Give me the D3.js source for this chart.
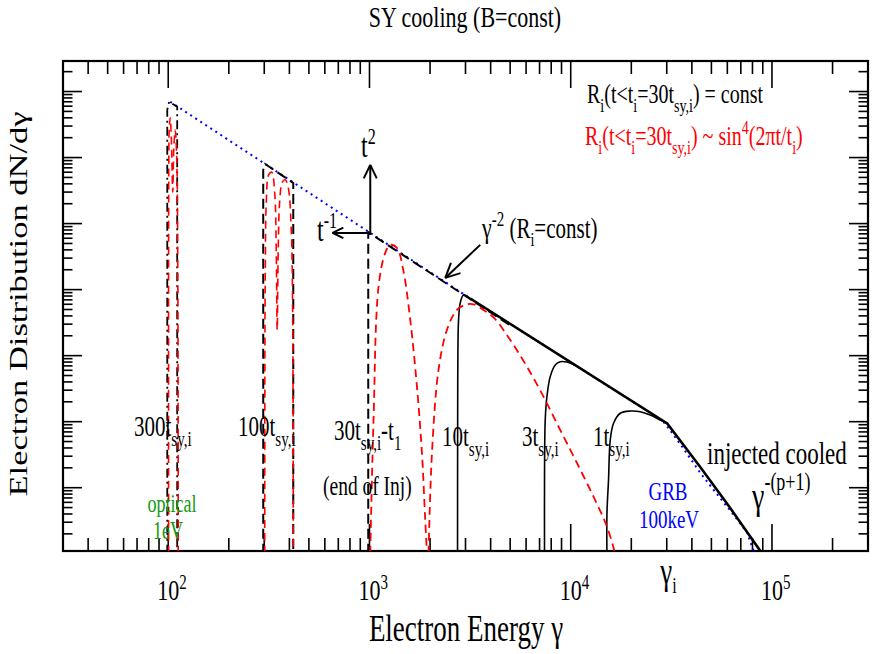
<!DOCTYPE html>
<html lang="en">
<head>
<meta charset="UTF-8">
<title>SY cooling (B=const)</title>
<script src="https://d3js.org/d3.v7.min.js"></script>
<style>
  body { margin: 0; background: #fff; }
  svg text { white-space: pre; }
</style>
</head>
<body>
<svg width="872" height="654"></svg>
<script>
    // axis ticks
    const xTickValues = [1e2, 1e3, 1e4, 1e5];
    const xTickExponents = ["2", "3", "4", "5"];
    const gammaI = 3.016e4;

    // curves, [gamma, dN/dgamma]
    const injectionAsymptote = [[102.3, 7.0e6], [1009, 7.23e4], [3167, 7340], [2.483e4, 136], [2.90e4, 98], [3.1e4, 76],
        [3.635e4, 39], [4.40e4, 16.8], [5.327e4, 8.0], [6.442e4, 3.9], [7.508e4, 2.1], [8.2e4, 1.0]];
    const cooledMain = [[3167, 7340], [3.016e4, 93.9], [4.40e4, 20.6], [6.202e4, 4.92], [8.95e4, 1.0]];
    const rise10 = [[2739, 1], [2741, 30], [2745, 400], [2752, 1369], [2771, 3475], [2825, 6288], [2934, 8313], [3167, 7340]];
    const rise3 = [[7409, 1], [7409, 13], [7469, 106], [7615, 239], [7909, 481], [8375, 723], [8868, 811], [9574, 800], [1.06e4, 705]];
    const rise1 = [[1.5134e4, 1], [1.5134e4, 4], [1.541e4, 13.1], [1.5715e4, 52.8], [1.6324e4, 94.6], [1.762e4, 134],
        [1.976e4, 145], [2.214e4, 141.7], [2.483e4, 126.3], [2.785e4, 106.1], [3.016e4, 93.9]];
    const t300Black = [[98.9, 1], [98.9, 5.3e6], [101.1, 7.0e6], [110.8, 5.86e6], [110.8, 1]];
    const t300Red = [[100.4, 1], [100.6, 6e5], [101.1, 2.6e6], [102.3, 4.0e6], [103.5, 2.2e6], [105.3, 3e5],
        [106.5, 1.3e6], [108.3, 2.6e6], [110.2, 1.0e6], [111.5, 3e4], [112.1, 1]];
    const t100Black = [[296.5, 1], [296.5, 6.5e5], [303, 8.0e5], [418.1, 4.12e5], [418.1, 1]];
    const t100Red = [[301.6, 1], [302.5, 3e3], [304, 3e4], [306.9, 2.0e5], [315.8, 5.5e5], [326.8, 6.0e5], [338.2, 2.9e5],
        [344, 4.0e4], [348, 2.45e3], [352, 4e4], [358.1, 2.2e5], [368.5, 4.2e5], [381.4, 4.6e5], [394.8, 3.5e5],
        [408.6, 8e4], [415.7, 3e3], [418.1, 1]];
    const t30Black = [[986, 1], [986, 7.4e4], [5000, 2884]];
    const t30RedA = [[1008.6, 1], [1047.4, 106], [1109.3, 1.11e4], [1197.6, 3.6e4], [1268.2, 4.76e4], [1369, 4.28e4],
        [1471.5, 1.99e4], [1594.3, 3475], [1721.3, 339], [1822.5, 33.6], [1892.6, 3.24], [1930, 1]];
    const t30RedB = [[1965, 1], [2044, 33.6], [2203, 607], [2426, 2451], [2720, 4925], [3050, 6000], [3289, 6000],
        [3687, 4900], [4134, 3800], [5005, 1729], [6059, 681], [7324, 239], [8868, 74.8], [1.0735e4, 23.7],
        [1.2982e4, 7.31], [1.5134e4, 2.57], [1.6642e4, 1]];

    // arrows: t^2 / t^-1 origin and the gamma^-2 pointer
    const arrowOrigin = [1009, 7.23e4];
    const arrowUpEnd = [1009, 7.75e5];
    const arrowLeftEnd = [655, 7.23e4];
    const slopeArrow = [[3550, 4.76e4], [2379, 1.504e4]];

    const margin = { left: 63, right: 868, top: 61, bottom: 551 };
    const S = 1.38; // text in the original is stretched vertically
    const FONT = "'Liberation Serif', 'Times New Roman', Times, 'DejaVu Serif', serif";

    const svg = d3.select("svg");

    const x = d3.scaleLog().domain([30, 3e5]).range([margin.left, margin.right]);
    const y = d3.scaleLog().domain([1.1, 2.9e7]).range([margin.bottom, margin.top]);

    svg.append("defs").append("clipPath").attr("id", "plot")
        .append("rect")
        .attr("x", margin.left).attr("y", margin.top)
        .attr("width", margin.right - margin.left)
        .attr("height", margin.bottom - margin.top);

    function richText(px, py, parts, opt) {
        const t = svg.append("text")
            .attr("transform", `translate(${px},${py}) scale(1,${S})` + (opt.rotate ? " rotate(-90)" : ""))
            .attr("text-anchor", opt.anchor || "start")
            .attr("fill", opt.color || "#000")
            .attr("font-family", FONT)
            .style("font-family", FONT)
            .style("font-size", opt.size + "px");
        let cur = 0;
        parts.forEach(p => {
            const shift = (p.dy || 0) / S;
            t.append("tspan")
                .attr("dy", (shift - cur).toFixed(2))
                .style("font-size", (p.s || opt.size) + "px")
                .text(p.t);
            cur = shift;
        });
        return t;
    }

    function drawAxes() {
        const minorX = [];
        for (let k = 1; k <= 5; k++) {
            for (let m = 2; m <= 9; m++) {
                const v = m * Math.pow(10, k);
                if (v > 30 && v < 3e5) minorX.push(v);
            }
        }
        const minorY = [];
        for (let k = 0; k <= 7; k++) {
            for (let m = 2; m <= 9; m++) {
                const v = m * Math.pow(10, k);
                if (v > 1.1 && v < 2.9e7) minorY.push(v);
            }
        }
        const majorY = d3.range(1, 8).map(k => Math.pow(10, k));

        const g = svg.append("g").attr("stroke", "#000");
        const xTicks = minorX.map(v => ({ v, len: 13 })).concat(xTickValues.map(v => ({ v, len: 27 })));
        xTicks.forEach(d => {
            g.append("line").attr("x1", x(d.v)).attr("x2", x(d.v))
                .attr("y1", margin.bottom).attr("y2", margin.bottom - d.len).attr("stroke-width", 1.6);
            g.append("line").attr("x1", x(d.v)).attr("x2", x(d.v))
                .attr("y1", margin.top).attr("y2", margin.top + d.len).attr("stroke-width", 1.6);
        });
        const yTicks = minorY.map(v => ({ v, len: 9.5 })).concat(majorY.map(v => ({ v, len: 19 })));
        yTicks.forEach(d => {
            g.append("line").attr("y1", y(d.v)).attr("y2", y(d.v))
                .attr("x1", margin.left).attr("x2", margin.left + d.len).attr("stroke-width", 1.6);
            g.append("line").attr("y1", y(d.v)).attr("y2", y(d.v))
                .attr("x1", margin.right).attr("x2", margin.right - d.len).attr("stroke-width", 1.6);
        });

        svg.append("rect")
            .attr("x", margin.left).attr("y", margin.top)
            .attr("width", margin.right - margin.left)
            .attr("height", margin.bottom - margin.top)
            .attr("fill", "none").attr("stroke", "#000").attr("stroke-width", 2.2);

        xTickValues.forEach((v, i) => {
            richText(x(v) - 11, 600, [{ t: "10" }, { t: xTickExponents[i], s: 15, dy: -11 }], { size: 22 });
        });
        richText(x(gammaI) - 7, 584, [{ t: "γ" }, { t: "i", s: 16, dy: 9 }], { size: 27 });

        richText(466, 641, [{ t: "Electron Energy γ" }], { size: 27, anchor: "middle" });
        richText(27, 304, [{ t: "Electron Distribution dN/dγ" }], { size: 25, anchor: "middle", rotate: true });
        richText(465, 27, [{ t: "SY cooling (B=const)" }], { size: 22, anchor: "middle" });
    }

    function drawCurve(data, color, width, dash, curve) {
        const line = d3.line()
            .x(d => x(d[0]))
            .y(d => y(d[1]))
            .curve(curve || d3.curveLinear);
        svg.append("path")
            .datum(data)
            .attr("clip-path", "url(#plot)")
            .attr("fill", "none")
            .attr("stroke", color)
            .attr("stroke-width", width)
            .attr("stroke-dasharray", dash)
            .attr("d", line);
    }

    function drawCurves() {
        const smooth = d3.curveCatmullRom.alpha(0.5);
        drawCurve(injectionAsymptote, "#0000ff", 2, "2,4");
        drawCurve(t300Black, "#000", 1.8, "9,4,2,4");
        drawCurve(t100Black, "#000", 2, "10,5");
        drawCurve(t30Black, "#000", 2, "10,5");
        drawCurve(cooledMain, "#000", 2.6, null);
        drawCurve(rise10, "#000", 1.6, null, smooth);
        drawCurve(rise3, "#000", 1.6, null, smooth);
        drawCurve(rise1, "#000", 1.6, null, smooth);
        drawCurve(t300Red, "#ff0000", 1.6, "8,5", smooth);
        drawCurve(t100Red, "#ff0000", 1.6, "8,5", smooth);
        drawCurve(t30RedA, "#ff0000", 1.8, "8,5", smooth);
        drawCurve(t30RedB, "#ff0000", 1.8, "8,5", smooth);
    }

    function arrow(from, to, head) {
        const x1 = x(from[0]), y1 = y(from[1]), x2 = x(to[0]), y2 = y(to[1]);
        const a = Math.atan2(y2 - y1, x2 - x1);
        const g = svg.append("g").attr("stroke", "#000").attr("stroke-width", 2).attr("fill", "none");
        g.append("line").attr("x1", x1).attr("y1", y1).attr("x2", x2).attr("y2", y2);
        [-0.45, 0.45].forEach(da => {
            g.append("line").attr("x1", x2).attr("y1", y2)
                .attr("x2", x2 - head * Math.cos(a + da))
                .attr("y2", y2 - head * Math.sin(a + da));
        });
    }

    function drawAnnotations() {
        arrow(arrowOrigin, arrowUpEnd, 15);
        arrow(arrowOrigin, arrowLeftEnd, 12);
        arrow(slopeArrow[0], slopeArrow[1], 16);

        richText(361, 157, [{ t: "t" }, { t: "2", s: 16, dy: -13 }], { size: 24 });
        richText(317, 241, [{ t: "t" }, { t: "-1", s: 16, dy: -13 }], { size: 24 });
        richText(482, 238, [{ t: "γ", s: 22 }, { t: "-2", s: 15, dy: -12 }, { t: " (R" }, { t: "i", s: 14, dy: 8 }, { t: "=const)" }], { size: 21 });

        const sub = (t) => ({ t, s: 15, dy: 10 });
        richText(134, 436, [{ t: "300t" }, sub("sy,i")], { size: 21 });
        richText(238, 436, [{ t: "100t" }, sub("sy,i")], { size: 21 });
        richText(334, 440, [{ t: "30t" }, sub("sy,i"), { t: "-t" }, sub("1")], { size: 21 });
        richText(323, 495, [{ t: "(end of Inj)" }], { size: 19.5 });
        richText(442, 446, [{ t: "10t" }, sub("sy,i")], { size: 21 });
        richText(522, 446, [{ t: "3t" }, sub("sy,i")], { size: 21 });
        richText(593, 446, [{ t: "1t" }, sub("sy,i")], { size: 21 });

        richText(707, 464, [{ t: "injected cooled" }], { size: 23 });
        richText(752, 509, [{ t: "γ", s: 28 }, { t: "-(p+1)", s: 18, dy: -19 }], { size: 18 });

        richText(668, 500, [{ t: "GRB" }], { size: 19, anchor: "middle", color: "#0000ff" });
        richText(669, 528, [{ t: "100keV" }], { size: 19, anchor: "middle", color: "#0000ff" });
        richText(172, 512, [{ t: "optical" }], { size: 18, anchor: "middle", color: "#119911" });
        richText(168, 539, [{ t: "1eV" }], { size: 18, anchor: "middle", color: "#119911" });

        const lsub = (t) => ({ t, s: 14, dy: 9 });
        richText(587, 103, [{ t: "R" }, lsub("i"), { t: "(t<t" }, lsub("i"), { t: "=30t" }, lsub("sy,i"), { t: ") = const" }], { size: 20 });
        richText(585, 145, [{ t: "R" }, lsub("i"), { t: "(t<t" }, lsub("i"), { t: "=30t" }, lsub("sy,i"), { t: ") ~ sin" },
            { t: "4", s: 14, dy: -11 }, { t: "(2πt/t" }, lsub("i"), { t: ")" }], { size: 20, color: "#ff0000" });
    }

    drawAxes();
    drawCurves();
    drawAnnotations();
</script>
</body>
</html>
